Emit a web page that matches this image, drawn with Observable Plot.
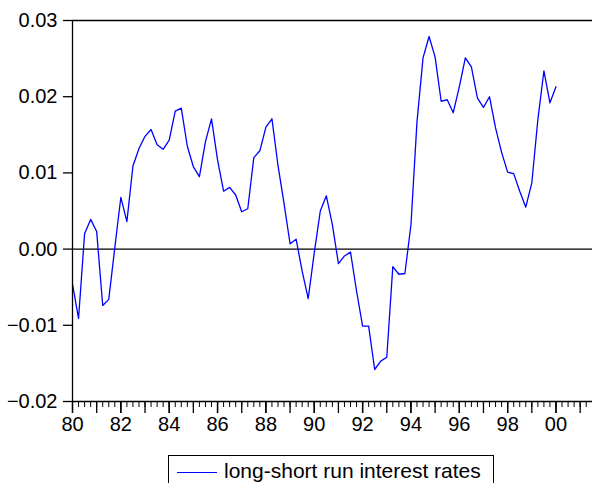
<!DOCTYPE html>
<html>
<head>
<meta charset="utf-8">
<script src="https://cdn.jsdelivr.net/npm/d3@7"></script>
<script src="https://cdn.jsdelivr.net/npm/@observablehq/plot@0.6"></script>
<style>
  html, body { margin: 0; padding: 0; background: #fff; }
  body { width: 592px; height: 483px; overflow: hidden; font-family: "Liberation Sans", Arial, sans-serif; }
  #legend { position: absolute; left: 168px; top: 455px; width: 326px; height: 40px; border: 1px solid #000; box-sizing: border-box; background: #fff; }
  #legend .swatch { position: absolute; left: 8px; top: 16px; width: 40px; height: 0; border-top: 1.3px solid #0000ff; }
  #legend .label { position: absolute; left: 55px; top: 3px; font-size: 21px; line-height: 24px; color: #000; white-space: nowrap; }
</style>
</head>
<body>
<div id="chart"></div>
<div id="legend"><div class="swatch"></div><div class="label"></div></div>
<script>
// Quarterly series, 1980Q1 .. 2000Q1
const startYear = 1980;
const seriesName = "long-short run interest rates";
const values = [
  -0.0046, -0.0091, 0.0020, 0.0039, 0.0023, -0.0074, -0.0066, 0.0002,
  0.0068, 0.0036, 0.0109, 0.0132, 0.0148, 0.0157, 0.0137, 0.0131,
  0.0143, 0.0181, 0.0185, 0.0135, 0.0108, 0.0095, 0.0141, 0.0171,
  0.0117, 0.0076, 0.0081, 0.0071, 0.0049, 0.0053, 0.0120, 0.0129,
  0.0160, 0.0171, 0.0110, 0.0060, 0.0007, 0.0013, -0.0029, -0.0065,
  -0.0005, 0.0050, 0.0070, 0.0032, -0.0019, -0.0009, -0.0004, -0.0055,
  -0.0101, -0.0101, -0.0158, -0.0147, -0.0142, -0.0023, -0.0033, -0.0032,
  0.0032, 0.0167, 0.0251, 0.0279, 0.0252, 0.0194, 0.0196, 0.0179,
  0.0213, 0.0251, 0.0239, 0.0198, 0.0186, 0.0200, 0.0159, 0.0127,
  0.0101, 0.0099, 0.0076, 0.0055, 0.0087, 0.0170, 0.0234, 0.0192,
  0.0213
];
const yTicks = [-0.02, -0.01, 0.00, 0.01, 0.02, 0.03];
const xLabelYears = [1980, 1982, 1984, 1986, 1988, 1990, 1992, 1994, 1996, 1998, 2000];
const xDomain = [1980, 2001.51];
const yDomain = [-0.02, 0.03];

const data = values.map((v, i) => ({t: startYear + i / 4, v}));
const yearTicks = d3.range(1980, 2002, 1);
const quarterTicks = d3.range(1980, 2001.5, 0.25);

const chart = Plot.plot({
  width: 592,
  height: 445,
  marginLeft: 72,
  marginRight: 0,
  marginTop: 20,
  marginBottom: 44,
  style: {fontFamily: "'Liberation Sans', Arial, sans-serif", fontSize: "20px", color: "#000", background: "#fff", overflow: "visible"},
  x: {domain: xDomain},
  y: {domain: yDomain},
  marks: [
    Plot.ruleY([0], {stroke: "#000", strokeWidth: 1.3}),
    Plot.ruleY([yDomain[1]], {stroke: "#000", strokeWidth: 1.3}),
    Plot.lineY(data, {x: "t", y: "v", stroke: "#0000ff", strokeWidth: 1.3}),
    Plot.ruleY([yDomain[0]], {stroke: "#000", strokeWidth: 1.3}),
    Plot.ruleX([xDomain[0]], {stroke: "#000", strokeWidth: 1.3}),
    Plot.axisY(yTicks, {tickSize: 9, tickPadding: 6, tickFormat: d3.format(".2f"), strokeWidth: 1.3, label: null, fontSize: 20}),
    Plot.axisX(quarterTicks, {tickSize: 6, tickFormat: () => "", strokeWidth: 1, label: null}),
    Plot.axisX(yearTicks, {tickSize: 12, tickFormat: () => "", strokeWidth: 1.3, label: null}),
    Plot.axisX(xLabelYears, {tickSize: 12, tickPadding: 3, tickFormat: d => String(d % 100).padStart(2, "0"), strokeWidth: 1.3, label: null, fontSize: 20})
  ]
});
document.getElementById("chart").appendChild(chart);
document.querySelector("#legend .label").textContent = seriesName;
</script>
</body>
</html>
